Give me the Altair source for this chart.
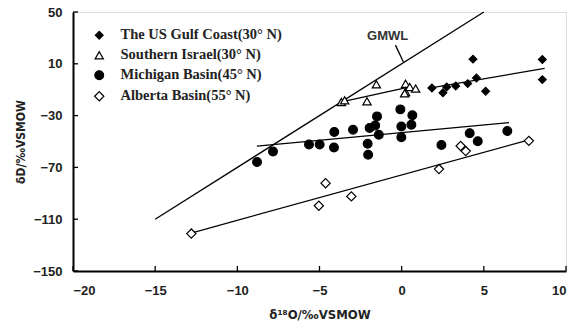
import altair as alt
import pandas as pd

# ---- data ----
sites = ["The US Gulf Coast(30° N)", "Southern Israel(30° N)",
         "Michigan Basin(45° N)", "Alberta Basin(55° N)"]

gulf_x = [1.84, 2.51, 2.74, 3.29, 4.02, 4.55, 4.34, 5.11, 8.56, 8.56]
gulf_y = [-8.7, -12.4, -7.9, -7.1, -5.3, -0.9, 13.6, -11.2, 13.3, -2.2]

israel_x = [-1.54, -2.11, -3.67, -3.47, 0.24, 0.24, 0.49, 0.85, 0.18]
israel_y = [-5.8, -19.0, -19.5, -18.2, -5.4, -11.8, -7.9, -9.1, -12.8]

michigan_x = [-8.80, -7.83, -5.64, -4.99, -4.12, -4.10, -2.96, -2.07, -2.04, -1.95, -1.61,
              -1.50, -1.39, -0.08, -0.02, -0.02, 0.65, 0.59, 2.42, 4.14, 4.63, 6.43]
michigan_y = [-65.9, -57.8, -52.3, -52.3, -54.7, -42.6, -40.9, -51.8, -60.2, -39.5, -37.6,
              -30.6, -44.8, -25.2, -38.4, -46.7, -29.8, -37.1, -52.7, -43.6, -49.8, -41.9]

alberta_x = [-12.80, -5.04, -4.63, -3.06, 2.27, 3.59, 3.90, 7.74]
alberta_y = [-121.1, -99.6, -82.2, -92.4, -71.3, -53.5, -57.4, -49.5]

# fitted lines (end points)
line_names = ["GMWL", "Gulf", "Israel", "Michigan", "Alberta", "pointer"]
line_x = [[-15, 5], [1.6, 8.7], [-3.8, 0.5], [-8.81, 6.53], [-12.7, 7.75], [-0.38, 0.12]]
line_y = [[-110, 50], [-8.9, 6.4], [-19.8, -7.9], [-53.6, -35.5], [-120.3, -48.7], [24.4, 11.0]]

gmwl_label = ["GMWL"]
gmwl_label_x = [-0.85]
gmwl_label_y = [31.4]

x_ticks = [-20, -15, -10, -5, 0, 5, 10]
y_ticks = [-150, -110, -70, -30, 10, 50]

# ---- tables ----
rows = []
for s, xv, yv in zip(sites, [gulf_x, israel_x, michigan_x, alberta_x],
                     [gulf_y, israel_y, michigan_y, alberta_y]):
    for a, b in zip(xv, yv):
        rows.append({"site": s, "x": a, "y": b})
pts = pd.DataFrame(rows)

lrows = []
for n, xv, yv in zip(line_names, line_x, line_y):
    for i, (a, b) in enumerate(zip(xv, yv)):
        lrows.append({"line": n, "x": a, "y": b, "o": i})
lines_df = pd.DataFrame(lrows)

W, H = 493, 259
xs = alt.Scale(domain=[-20, 10], nice=False, zero=False)
ys = alt.Scale(domain=[-150, 50], nice=False, zero=False)

x_axis = alt.Axis(values=x_ticks, title="δ¹⁸O/‰VSMOW", grid=False, ticks=False,
                  labelFont="Liberation Sans", labelFontSize=13, labelFontWeight="bold",
                  labelColor="#222", labelPadding=13, domainColor="black", domainWidth=2,
                  titleFont="DejaVu Sans Condensed", titleFontSize=13, titleFontWeight="bold",
                  titleColor="#222", titlePadding=11)
y_axis = alt.Axis(values=y_ticks, title="δD/‰VSMOW", grid=False, ticks=False,
                  labelFont="Liberation Sans", labelFontSize=13, labelFontWeight="bold",
                  labelColor="#222", labelPadding=11, domainColor="black", domainWidth=2,
                  titleFont="DejaVu Sans Condensed", titleFontSize=12, titleFontWeight="bold",
                  titleColor="#222", titlePadding=5)

X = alt.X("x:Q", scale=xs, axis=x_axis)
Y = alt.Y("y:Q", scale=ys, axis=y_axis)

leg = alt.Legend(orient="none", legendX=19, legendY=16, padding=0, rowPadding=5,
                 title=None, labelFont="Liberation Serif", labelFontSize=14.5,
                 labelFontWeight="bold", labelColor="#222", labelOffset=14, labelLimit=400,
                 symbolStrokeColor="black", symbolStrokeWidth=1.2)

lines = alt.Chart(lines_df).mark_line(color="black", strokeWidth=1.3).encode(
    x=X, y=Y, detail="line:N", order="o:Q",
)

points = alt.Chart(pts).mark_point(opacity=1, strokeWidth=1.2).encode(
    x=X, y=Y,
    shape=alt.Shape("site:N", scale=alt.Scale(domain=sites,
                    range=["diamond", "triangle-up", "circle", "diamond"]), legend=leg),
    fill=alt.Fill("site:N", scale=alt.Scale(domain=sites,
                  range=["black", "white", "black", "white"]), legend=leg),
    stroke=alt.Stroke("site:N", scale=alt.Scale(domain=sites,
                      range=["black", "black", "black", "black"]), legend=leg),
    size=alt.Size("site:N", scale=alt.Scale(domain=sites, range=[60, 85, 75, 55]), legend=leg),
)

label = alt.Chart(pd.DataFrame({"t": gmwl_label, "x": gmwl_label_x, "y": gmwl_label_y})).mark_text(
    font="Liberation Sans", fontSize=13, fontWeight="bold", color="#333"
).encode(x=X, y=Y, text="t:N")

xt = alt.Chart(pd.DataFrame({"x": x_ticks})).mark_rule(color="black", strokeWidth=1.3).encode(
    x=X, y=alt.value(H), y2=alt.value(H - 5))
yt = alt.Chart(pd.DataFrame({"y": y_ticks})).mark_rule(color="black", strokeWidth=1.3).encode(
    y=Y, x=alt.value(0), x2=alt.value(5))

chart = alt.layer(lines, points, label, xt, yt).properties(
    width=W, height=H,
    autosize=alt.AutoSizeParams(type="none"),
    padding={"left": 73, "top": 12, "right": 8, "bottom": 54},
).configure_view(stroke="black", strokeWidth=1.5).configure(background="white")

chart.save("out.html", embed_options={"renderer": "svg", "actions": False})
